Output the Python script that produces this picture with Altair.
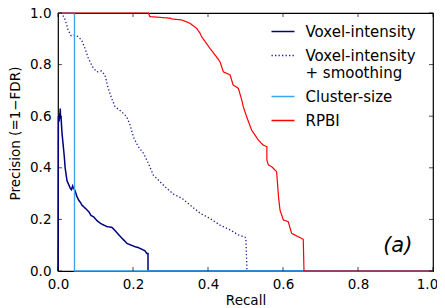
import altair as alt
import pandas as pd

names = ["Voxel-intensity", "Voxel-intensity + smoothing", "Cluster-size", "RPBI"]
colors = ["#000080", "#1c1c96", "#3aa6f0", "#ff0000"]

vi_x = [0.0, 0.001, 0.003, 0.004, 0.005, 0.006, 0.007, 0.008, 0.010, 0.011, 0.013, 0.015, 0.017, 0.019, 0.021,
        0.024, 0.027, 0.030, 0.033, 0.036, 0.039, 0.042, 0.046, 0.050, 0.055, 0.060, 0.064, 0.068, 0.075, 0.082,
        0.088, 0.095, 0.104, 0.113, 0.122, 0.131, 0.144, 0.150, 0.162, 0.172, 0.184, 0.195, 0.206, 0.215, 0.224,
        0.232, 0.237, 0.240, 0.240, 1.0]
vi_y = [0.0, 0.60, 0.58, 0.61, 0.60, 0.63, 0.59, 0.60, 0.55, 0.53, 0.50, 0.47, 0.44, 0.40, 0.38,
        0.35, 0.34, 0.33, 0.32, 0.315, 0.33, 0.32, 0.31, 0.29, 0.275, 0.265, 0.255, 0.25, 0.24, 0.23,
        0.215, 0.21, 0.195, 0.185, 0.178, 0.172, 0.169, 0.160, 0.14, 0.125, 0.107, 0.100, 0.094, 0.090, 0.084,
        0.078, 0.068, 0.068, 0.0, 0.0]

sm_x = [0.013, 0.017, 0.022, 0.027, 0.035, 0.045, 0.054, 0.063, 0.072, 0.081, 0.092, 0.103, 0.116, 0.125,
        0.134, 0.143, 0.152, 0.170, 0.183, 0.192, 0.201, 0.214, 0.228, 0.241, 0.254, 0.272, 0.290, 0.308,
        0.330, 0.352, 0.379, 0.405, 0.432, 0.459, 0.481, 0.499, 0.501, 0.504, 1.0]
sm_y = [0.99, 0.982, 0.96, 0.934, 0.912, 0.915, 0.908, 0.895, 0.863, 0.824, 0.792, 0.772, 0.775, 0.76,
        0.708, 0.669, 0.637, 0.617, 0.598, 0.566, 0.52, 0.482, 0.456, 0.417, 0.372, 0.346, 0.32, 0.298,
        0.282, 0.256, 0.224, 0.204, 0.178, 0.159, 0.14, 0.131, 0.125, 0.0, 0.0]

cs_x = [0.0, 0.044, 0.044, 1.0]
cs_y = [1.0, 1.0, 0.0, 0.0]

rp_x = [0.0, 0.241, 0.245, 0.299, 0.303, 0.33, 0.352, 0.37, 0.379, 0.383, 0.396, 0.405, 0.419, 0.432,
        0.441, 0.459, 0.467, 0.481, 0.49, 0.494, 0.503, 0.516, 0.534, 0.547, 0.557, 0.557, 0.561, 0.570,
        0.583, 0.588, 0.592, 0.601, 0.614, 0.623, 0.636, 0.654, 0.656, 1.0]
rp_y = [1.0, 1.0, 0.986, 0.98, 0.977, 0.973, 0.96, 0.94, 0.921, 0.908, 0.882, 0.863, 0.837, 0.811,
        0.772, 0.76, 0.721, 0.708, 0.663, 0.637, 0.598, 0.547, 0.508, 0.488, 0.482, 0.43, 0.411, 0.404,
        0.385, 0.288, 0.236, 0.198, 0.191, 0.146, 0.136, 0.123, 0.0, 0.0]

tick_vals = [0.0, 0.2, 0.4, 0.6, 0.8, 1.0]
panel_label = ["(a)"]
panel_pos = [0.906, 0.074]

W, H = 375, 258
FONT = "DejaVu Sans"
XT = "Recall"
YT = "Precision (=1−FDR)"

rows = []
for name, xs, ys in [(names[0], vi_x, vi_y), (names[1], sm_x, sm_y),
                     (names[2], cs_x, cs_y), (names[3], rp_x, rp_y)]:
    for i, (a, b) in enumerate(zip(xs, ys)):
        rows.append({"series": name, "recall": a, "precision": b, "order": i})
df = pd.DataFrame(rows)

xscale = alt.Scale(domain=[0, 1], nice=False, zero=False)
yscale = alt.Scale(domain=[0, 1], nice=False, zero=False)

legend = alt.Legend(
    title=None, orient="none", legendX=217.5, legendY=11, symbolType="M-2,0L2,0",
    symbolSize=132, symbolStrokeWidth=1.5, symbolFillColor="transparent",
    labelFont=FONT, labelFontSize=15,
    labelColor="black", labelOffset=15, rowPadding=8, padding=0,
    labelLimit=300,
    labelExpr="datum.label == 'Voxel-intensity + smoothing' ? ['Voxel-intensity', '+ smoothing'] : datum.label",
)

color = alt.Color("series:N", scale=alt.Scale(domain=names, range=colors), legend=legend, sort=names)
dash = alt.StrokeDash("series:N", scale=alt.Scale(domain=names, range=[[1, 0], [1.3, 2.2], [1, 0], [1, 0]]),
                      legend=legend, sort=names)

xaxis = alt.Axis(values=tick_vals, format=".1f", ticks=False, tickSize=0, domain=False, grid=False,
                 labelFlush=False,
                 labelOffset={"condition": {"test": "datum.value >= 1", "value": -6}, "value": 0},
                 labelFont=FONT, labelFontSize=13.5, labelColor="black", labelPadding=17,
                 labelBaseline="alphabetic", title=XT, titleFont=FONT, titleFontSize=13.5,
                 titleFontWeight="normal", titleColor="black", titleY=33, titleBaseline="alphabetic")
yaxis = alt.Axis(values=tick_vals, format=".1f", ticks=False, tickSize=0, domain=False, grid=False,
                 labelFlush=False,
                 labelFont=FONT, labelFontSize=13.5, labelColor="black", labelPadding=7,
                 title=YT, titleFont=FONT, titleFontSize=13.5,
                 titleFontWeight="normal", titleColor="black", titleX=-43, titleY=120,
                 titleAngle=270, titleAlign="center", titleBaseline="middle")


def X(field):
    return alt.X(field, scale=xscale, axis=xaxis, title=XT)


def Y(field):
    return alt.Y(field, scale=yscale, axis=yaxis, title=YT)


base = alt.Chart(df)
layers = []
widths = [1.5, 1.3, 1.4, 1.2]
for i, name in enumerate(names):
    layers.append(base.transform_filter(alt.datum.series == name)
                  .mark_line(strokeWidth=widths[i], clip=False)
                  .encode(x=X("recall:Q"), y=Y("precision:Q"), color=color, strokeDash=dash,
                          order="order:Q"))

tdf = pd.DataFrame({"t": tick_vals})
tk = alt.Chart(tdf)
tick_layers = [
    tk.mark_tick(color="black", thickness=1, size=4, orient="vertical").encode(x=X("t:Q"), y=alt.value(H - 2)),
    tk.mark_tick(color="black", thickness=1, size=4, orient="vertical").encode(x=X("t:Q"), y=alt.value(2)),
    tk.mark_tick(color="black", thickness=1, size=4, orient="horizontal").encode(y=Y("t:Q"), x=alt.value(2)),
    tk.mark_tick(color="black", thickness=1, size=4, orient="horizontal").encode(y=Y("t:Q"), x=alt.value(W - 2)),
]

lab = alt.Chart(pd.DataFrame({"t": panel_label, "x": [panel_pos[0]], "y": [panel_pos[1]]})).mark_text(
    font=FONT, fontSize=21, fontStyle="italic", align="center", baseline="alphabetic", color="black"
).encode(x=X("x:Q"), y=Y("y:Q"), text="t:N")

chart = alt.layer(*layers, *tick_layers, lab).properties(
    width=W, height=H,
    autosize=alt.AutoSizeParams(type="none"),
    padding={"left": 50, "top": 5, "right": 4, "bottom": 37},
).configure(background="white", view=alt.ViewConfig(stroke="black", strokeWidth=1.2))

chart.save("out.html", embed_options={"renderer": "svg", "actions": False})
